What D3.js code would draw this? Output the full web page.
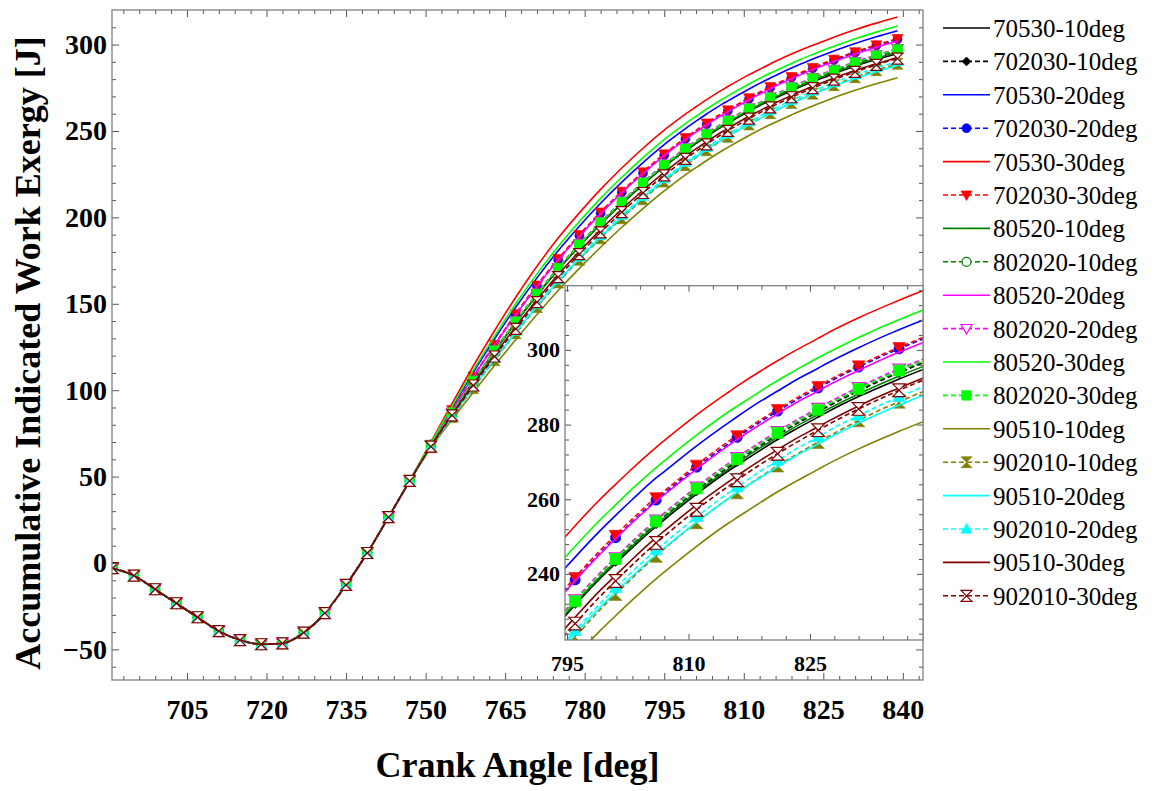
<!DOCTYPE html>
<html><head><meta charset="utf-8">
<script src="https://cdn.jsdelivr.net/npm/d3@7"></script>
<style>body{margin:0;background:#fff}svg{display:block}</style>
</head><body>
<svg id="chart" width="1157" height="791"></svg>
<script>
// ---------------- DATA ----------------
// Crank angles shared by all series (curves coincide here)
const angleCommon = [691,695,699,703,707,711,715,719,723,727,731,735,739,743,747];
const valueCommon = [-3.0,-7.3,-15.2,-23.3,-31.4,-39.4,-44.6,-47.0,-46.5,-40.3,-29.0,-12.7,5.8,26.5,47.5];
// Crank angles where the series separate
const angleLate = [751,755,759,763,767,771,775,779,783,787,791,795,796,799,801,803,806,807,811,815,816,819,821,823,826,827,831,835,836,839];

const s70530_10  = [67.9,86.7,104.9,122.3,139.0,154.9,169.7,183.3,196.0,207.9,219.0,229.3,231.7,238.6,242.8,246.9,252.7,254.5,261.4,267.7,269.1,273.3,276.0,278.5,282.0,283.2,287.5,291.3,292.2,294.8];
const s702030_10 = [67.9,86.8,105.0,122.6,139.3,155.2,170.1,183.7,196.4,208.3,219.4,229.7,232.1,239.1,243.4,247.6,253.5,255.3,262.3,268.7,270.2,274.5,277.2,279.8,283.4,284.6,289.0,293.0,293.9,296.6];
const s70530_20  = [69.2,90.1,110.4,129.6,148.0,165.0,180.7,194.9,208.2,220.4,231.7,242.1,244.5,251.4,255.7,259.8,265.7,267.4,274.3,280.6,282.1,286.4,289.0,291.6,295.1,296.3,300.6,304.5,305.4,308.0];
const s702030_20 = [68.6,88.5,107.8,126.1,143.7,160.2,175.5,189.4,202.4,214.5,225.6,236.0,238.4,245.4,249.7,253.9,259.8,261.6,268.6,275.0,276.6,280.9,283.6,286.2,289.8,291.0,295.4,299.4,300.3,303.0];
const s70530_30  = [70.0,92.3,114.0,134.4,153.8,171.7,188.0,202.6,216.2,228.6,240.0,250.5,252.9,259.8,264.0,268.1,273.9,275.7,282.6,288.8,290.3,294.5,297.1,299.6,303.1,304.3,308.6,312.4,313.3,315.9];
const s702030_30 = [68.6,88.7,108.1,126.5,144.2,160.8,176.1,190.0,203.1,215.1,226.3,236.7,239.1,246.1,250.4,254.6,260.5,262.2,269.2,275.6,277.1,281.4,284.1,286.7,290.3,291.5,295.8,299.8,300.7,303.4];
const s80520_10  = [67.9,86.8,105.0,122.6,139.3,155.2,170.1,183.7,196.4,208.3,219.4,229.7,232.1,239.0,243.3,247.4,253.2,255.0,261.9,268.2,269.7,274.0,276.6,279.2,282.7,283.9,288.2,292.1,293.0,295.6];
const s802020_10 = [68.0,87.0,105.2,122.8,139.6,155.5,170.4,184.0,196.8,208.7,219.8,230.1,232.5,239.5,243.8,248.0,253.9,255.7,262.7,269.1,270.6,274.9,277.6,280.2,283.8,285.0,289.4,293.4,294.3,297.0];
const s80520_20  = [68.6,88.4,107.7,126.0,143.6,160.0,175.3,189.2,202.2,214.3,225.4,235.8,238.2,245.1,249.4,253.6,259.4,261.2,268.1,274.5,276.0,280.2,282.9,285.5,289.0,290.2,294.5,298.5,299.4,302.0];
const s802020_20 = [68.0,87.1,105.5,123.1,140.0,156.0,170.9,184.6,197.4,209.3,220.4,230.7,233.1,240.1,244.4,248.6,254.5,256.3,263.3,269.7,271.2,275.5,278.2,280.8,284.4,285.6,290.0,294.0,294.9,297.6];
const s80520_30  = [69.5,90.8,111.6,131.3,150.0,167.3,183.2,197.6,211.0,223.2,234.6,245.0,247.4,254.3,258.5,262.7,268.5,270.3,277.2,283.5,284.9,289.1,291.8,294.3,297.9,299.0,303.3,307.2,308.1,310.7];
const s802020_30 = [68.0,87.0,105.3,122.9,139.7,155.7,170.6,184.2,197.0,208.9,220.0,230.3,232.7,239.7,244.0,248.2,254.1,255.9,262.9,269.3,270.8,275.1,277.8,280.4,284.0,285.2,289.6,293.6,294.5,297.2];
const s90510_10  = [66.5,83.1,98.8,114.3,129.2,143.8,157.7,170.5,182.7,194.3,205.1,215.3,217.7,224.6,228.8,232.9,238.7,240.5,247.4,253.7,255.1,259.3,262.0,264.5,268.0,269.2,273.5,277.3,278.2,280.8];
const s902010_10 = [67.0,84.5,101.2,117.4,133.0,148.1,162.3,175.5,187.9,199.5,210.5,220.7,223.1,230.2,234.6,238.8,244.8,246.7,253.8,260.3,261.8,266.2,269.0,271.6,275.3,276.5,281.1,285.2,286.1,288.9];
const s90510_20  = [67.1,84.7,101.5,117.9,133.5,148.7,163.0,176.2,188.6,200.3,211.3,221.5,223.9,230.9,235.1,239.3,245.2,247.0,253.9,260.3,261.8,266.0,268.7,271.3,274.8,276.0,280.4,284.3,285.2,287.9];
const s902010_20 = [67.2,84.9,101.9,118.4,134.2,149.5,163.8,177.0,189.5,201.2,212.2,222.4,224.8,231.9,236.2,240.5,246.4,248.2,255.3,261.8,263.3,267.7,270.4,273.1,276.7,278.0,282.4,286.5,287.4,290.2];
const s90510_30  = [67.6,85.9,103.5,120.4,136.7,152.3,166.9,180.3,192.9,204.7,215.7,226.0,228.4,235.4,239.6,243.8,249.7,251.5,258.5,264.8,266.3,270.6,273.3,275.9,279.4,280.6,285.0,288.9,289.8,292.5];
const s902010_30 = [67.4,85.4,102.7,119.5,135.5,151.0,165.4,178.7,191.3,203.0,214.1,224.3,226.7,233.8,238.1,242.3,248.3,250.1,257.2,263.6,265.1,269.5,272.2,274.8,278.5,279.7,284.2,288.2,289.2,291.9];

const seriesNames = ["70530-10deg","702030-10deg","70530-20deg","702030-20deg","70530-30deg","702030-30deg",
  "80520-10deg","802020-10deg","80520-20deg","802020-20deg","80520-30deg","802020-30deg",
  "90510-10deg","902010-10deg","90510-20deg","902010-20deg","90510-30deg","902010-30deg"];
const seriesValues = [s70530_10,s702030_10,s70530_20,s702030_20,s70530_30,s702030_30,
  s80520_10,s802020_10,s80520_20,s802020_20,s80520_30,s802020_30,
  s90510_10,s902010_10,s90510_20,s902010_20,s90510_30,s902010_30];

// tick labels
const xMainTicks = [705,720,735,750,765,780,795,810,825,840];
const yMainTicks = [-50,0,50,100,150,200,250,300];
const xInsetTicks = [795,810,825];
const yInsetTicks = [240,260,280,300];

// ---------------- STYLES ----------------
const seriesStyle = [
  {c:"#000000",dash:false},{c:"#000000",dash:true,m:"diamond",fill:true},
  {c:"#0000ff",dash:false},{c:"#0000ff",dash:true,m:"circle",fill:true},
  {c:"#ff0000",dash:false},{c:"#ff0000",dash:true,m:"triDown",fill:true},
  {c:"#008000",dash:false},{c:"#008000",dash:true,m:"circle",fill:false},
  {c:"#ff00ff",dash:false},{c:"#ff00ff",dash:true,m:"triDown",fill:false},
  {c:"#00ff00",dash:false},{c:"#00ff00",dash:true,m:"square",fill:true},
  {c:"#808000",dash:false},{c:"#808000",dash:true,m:"hourglass",fill:true},
  {c:"#00ffff",dash:false},{c:"#00ffff",dash:true,m:"triUp",fill:true},
  {c:"#800000",dash:false},{c:"#800000",dash:true,m:"hourglass",fill:false}
];
const FONT = "'Liberation Serif','Times New Roman',Times,serif";
const FRAME = "#808080", TICK = "#555";

const series = seriesNames.map((name,i)=>({
  name, style: seriesStyle[i],
  pts: angleCommon.map((a,j)=>({a, v:valueCommon[j]}))
        .concat(angleLate.map((a,j)=>({a, v:seriesValues[i][j]})))
}));

function markerPath(t, s){
  switch(t){
    case "square": return `M${-s},${-s}H${s}V${s}H${-s}Z`;
    case "circle": return `M${s},0A${s},${s} 0 1,1 ${-s},0A${s},${s} 0 1,1 ${s},0Z`;
    case "diamond": return `M0,${-s}L${s},0L0,${s}L${-s},0Z`;
    case "triDown": return `M${-s},${-s*0.75}L${s},${-s*0.75}L0,${s}Z`;
    case "triUp": return `M${-s},${s*0.75}L${s},${s*0.75}L0,${-s}Z`;
    case "hourglass": return `M${-s},${-s}L${s},${-s}L${-s},${s}L${s},${s}Z`;
  }
}
function markerSize(t){ return t==="diamond"?4.5: t==="circle"?4.5: t==="square"?4.8: 5.5; }

const svg = d3.select("#chart");
svg.append("rect").attr("width",1157).attr("height",791).attr("fill","#fff");
const defs = svg.append("defs");

// ---------------- MAIN PLOT ----------------
const P = {l:112, r:923, t:10, b:680};
const x = d3.scaleLinear().domain([690.86, 843.8]).range([P.l, P.r]);
const y = d3.scaleLinear().domain([-67.7, 320]).range([P.b, P.t]);

defs.append("clipPath").attr("id","clipMain").append("rect")
  .attr("x",P.l).attr("y",P.t).attr("width",P.r-P.l).attr("height",P.b-P.t);

function drawSeries(g, xs, ys, isMarker, mScale){
  const line = d3.line().x(d=>xs(d.a)).y(d=>ys(d.v)).curve(d3.curveMonotoneX);
  series.forEach(s=>{
    const st = s.style;
    g.append("path").attr("d", line(s.pts)).attr("fill","none")
      .attr("stroke", st.c).attr("stroke-width",1.6)
      .attr("stroke-dasharray", st.dash ? "5,3" : null);
    if (st.m){
      const sz = markerSize(st.m)*mScale;
      g.selectAll(null).data(s.pts.filter(isMarker)).enter().append("path")
        .attr("transform", d=>`translate(${xs(d.a)},${ys(d.v)})`)
        .attr("d", markerPath(st.m, sz))
        .attr("fill", st.fill ? st.c : "#fff")
        .attr("stroke", st.c).attr("stroke-width", st.fill?0.6:1.2);
    }
  });
}

const gMain = svg.append("g").attr("clip-path","url(#clipMain)");
drawSeries(gMain, x, y, d => (d.a - 691) % 4 === 0, 1);

function styleAxis(g, fontSize){
  g.select(".domain").remove();
  g.selectAll(".tick line").attr("stroke", TICK).attr("stroke-width",1);
  g.selectAll(".tick text").attr("font-family", FONT).attr("font-weight","bold")
    .attr("font-size", fontSize).attr("fill","#000");
}
const xMinor = d3.range(693, 844, 3).filter(v=>!xMainTicks.includes(v));
const yMinor = d3.range(-60, 320, 10).filter(v=>!yMainTicks.includes(v));

function axes(xs, ys, L, xMaj, xMin, yMaj, yMin, majLen, minLen, fs, xPad, yPad){
  svg.append("g").attr("transform",`translate(0,${L.b})`)
    .call(d3.axisBottom(xs).tickValues(xMin).tickSizeInner(-minLen).tickSizeOuter(0).tickFormat(""))
    .call(g=>styleAxis(g,fs));
  svg.append("g").attr("transform",`translate(0,${L.b})`)
    .call(d3.axisBottom(xs).tickValues(xMaj).tickSizeInner(-majLen).tickSizeOuter(0).tickPadding(xPad).tickFormat(d3.format("d")))
    .call(g=>styleAxis(g,fs));
  svg.append("g").attr("transform",`translate(0,${L.t})`)
    .call(d3.axisTop(xs).tickValues(xMin).tickSizeInner(-minLen).tickSizeOuter(0).tickFormat(""))
    .call(g=>styleAxis(g,fs));
  svg.append("g").attr("transform",`translate(0,${L.t})`)
    .call(d3.axisTop(xs).tickValues(xMaj).tickSizeInner(-majLen).tickSizeOuter(0).tickFormat(""))
    .call(g=>styleAxis(g,fs));
  svg.append("g").attr("transform",`translate(${L.l},0)`)
    .call(d3.axisLeft(ys).tickValues(yMin).tickSizeInner(-minLen).tickSizeOuter(0).tickFormat(""))
    .call(g=>styleAxis(g,fs));
  svg.append("g").attr("transform",`translate(${L.l},0)`)
    .call(d3.axisLeft(ys).tickValues(yMaj).tickSizeInner(-majLen).tickSizeOuter(0).tickPadding(yPad).tickFormat(d3.format("d")))
    .call(g=>styleAxis(g,fs));
  svg.append("g").attr("transform",`translate(${L.r},0)`)
    .call(d3.axisRight(ys).tickValues(yMin).tickSizeInner(-minLen).tickSizeOuter(0).tickFormat(""))
    .call(g=>styleAxis(g,fs));
  svg.append("g").attr("transform",`translate(${L.r},0)`)
    .call(d3.axisRight(ys).tickValues(yMaj).tickSizeInner(-majLen).tickSizeOuter(0).tickFormat(""))
    .call(g=>styleAxis(g,fs));
  svg.append("rect").attr("x",L.l).attr("y",L.t).attr("width",L.r-L.l).attr("height",L.b-L.t)
    .attr("fill","none").attr("stroke",FRAME).attr("stroke-width",1.3);
}
axes(x, y, P, xMainTicks, xMinor, yMainTicks, yMinor, 7, 4, 28, 19, 5);

// ---------------- INSET ----------------
const I = {l:565, r:923, t:285.7, b:640};
const xi = d3.scaleLinear().domain([794.75, 838.95]).range([I.l, I.r]);
const yi = d3.scaleLinear().domain([222.3, 317.2]).range([I.b, I.t]);
svg.append("rect").attr("x",I.l).attr("y",I.t).attr("width",I.r-I.l).attr("height",I.b-I.t).attr("fill","#fff");
defs.append("clipPath").attr("id","clipInset").append("rect")
  .attr("x",I.l).attr("y",I.t).attr("width",I.r-I.l).attr("height",I.b-I.t);
const gIn = svg.append("g").attr("clip-path","url(#clipInset)");
drawSeries(gIn, xi, yi, d => d.a >= 796 && (d.a - 796) % 5 === 0, 1.15);
const xiMinor = d3.range(798, 839, 3).filter(v=>!xInsetTicks.includes(v));
const yiMinor = d3.range(224, 317, 4).filter(v=>!yInsetTicks.includes(v));
axes(xi, yi, I, xInsetTicks, xiMinor, yInsetTicks, yiMinor, 6, 4, 22, 15, 5);

// ---------------- AXIS TITLES ----------------
svg.append("text").attr("x", (P.l+P.r)/2).attr("y", 777).attr("text-anchor","middle")
  .attr("font-family",FONT).attr("font-weight","bold").attr("font-size",36)
  .text("Crank Angle [deg]");
svg.append("text").attr("transform",`translate(40,${(P.t+P.b)/2+8}) rotate(-90)`).attr("text-anchor","middle")
  .attr("font-family",FONT).attr("font-weight","bold").attr("font-size",36)
  .text("Accumulative Indicated Work Exergy [J]");

// ---------------- LEGEND ----------------
const leg = svg.append("g");
series.forEach((s,i)=>{
  const yy = 28 + 33.4*i, st = s.style;
  leg.append("line").attr("x1",943).attr("x2",990).attr("y1",yy).attr("y2",yy)
    .attr("stroke",st.c).attr("stroke-width",1.6).attr("stroke-dasharray", st.dash?"5,3":null);
  if (st.m){
    leg.append("path").attr("transform",`translate(966.5,${yy})`)
      .attr("d", markerPath(st.m, markerSize(st.m)))
      .attr("fill", st.fill?st.c:"#fff").attr("stroke",st.c).attr("stroke-width", st.fill?0.6:1.2);
  }
  leg.append("text").attr("x",993).attr("y",yy+9)
    .attr("font-family",FONT).attr("font-size",25).text(s.name);
});
</script>
</body></html>
